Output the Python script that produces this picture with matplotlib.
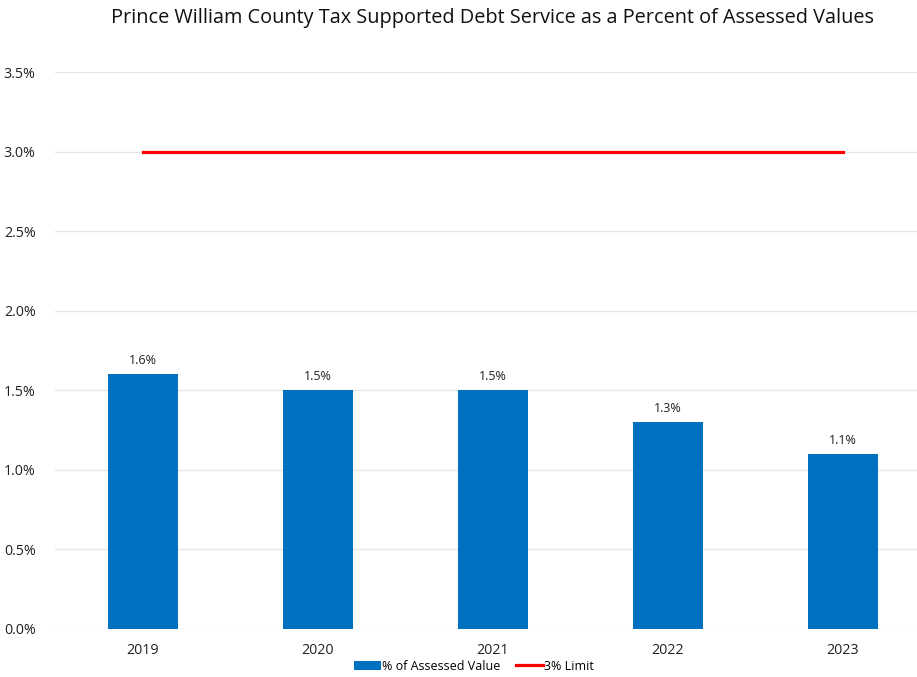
import matplotlib
matplotlib.use("Agg")
import matplotlib.pyplot as plt
from matplotlib.ticker import FuncFormatter

years = ["2019", "2020", "2021", "2022", "2023"]
pct_assessed = [1.6, 1.5, 1.5, 1.3, 1.1]
limit = [3.0, 3.0, 3.0, 3.0, 3.0]
y_ticks = [0.0, 0.5, 1.0, 1.5, 2.0, 2.5, 3.0, 3.5]

plt.rcParams["font.family"] = ["Open Sans", "DejaVu Sans"]

fig = plt.figure(figsize=(9.17, 6.77), dpi=100)
ax = fig.add_axes([55 / 917, 48 / 677, 1 - 55 / 917, (629 - 72) / 677])

x = list(range(len(years)))
bars = ax.bar(x, pct_assessed, width=0.4, color="#0070C0", label="% of Assessed Value", zorder=2)
line, = ax.plot(x, limit, color="#FF0000", linewidth=2.3, label="3% Limit", zorder=3)

for xi, v in zip(x, pct_assessed):
    ax.annotate(f"{v:.1f}%", (xi, v), xytext=(0, 5), textcoords="offset points",
                ha="center", va="bottom", fontsize=9, color="#222222")

ax.set_xlim(-0.5, (917 - 142.5) / 175)
ax.set_ylim(0, 3.5)
ax.set_yticks(y_ticks)
ax.yaxis.set_major_formatter(FuncFormatter(lambda v, p: f"{v:.1f}%"))
ax.set_xticks(x)
ax.set_xticklabels(years)
ax.tick_params(axis="both", length=0, labelsize=10.3, colors="#222222")
ax.tick_params(axis="x", pad=10)
ax.tick_params(axis="y", pad=14)
ax.grid(axis="y", color="#E6E6E6", linewidth=1, zorder=0)
for s in ax.spines.values():
    s.set_visible(False)

fig.text(0.537, 0.988, "Prince William County Tax Supported Debt Service as a Percent of Assessed Values",
         ha="center", va="top", fontsize=14.3, color="#111111")

ax.legend(handles=[bars, line], loc="center", bbox_to_anchor=(474 / 917, 11 / 677),
          bbox_transform=fig.transFigure, ncol=2, frameon=False,
          fontsize=9, handlelength=2.2, handletextpad=0.1, columnspacing=1.2)

fig.savefig("out.png", dpi=100, facecolor="white")
